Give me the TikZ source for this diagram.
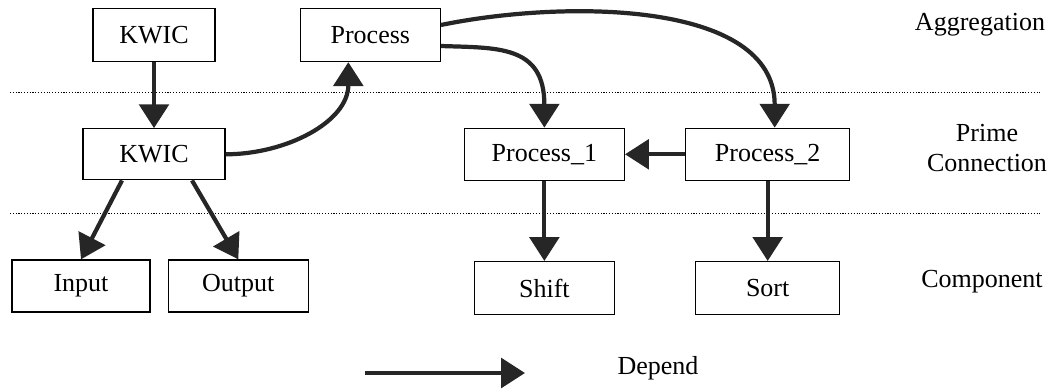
\documentclass[tikz,border=0pt]{standalone}
\usepackage{fontspec}
\setmainfont{Liberation Serif}
\usetikzlibrary{arrows.meta,positioning,calc}
\tikzset{
    layerbox/.style={draw, line width=0.9pt, align=center,
        minimum height=1.3cm, minimum width=3.5cm, inner sep=2pt},
    deparrow/.style={-{Triangle[length=17pt, width=21pt]}, line width=3pt, draw=black!85},
    layerline/.style={line width=0.7pt, dash pattern=on 0.8pt off 1.2pt}
}

\begin{document}
\begin{tikzpicture}[
    x=0.025cm, y=-0.025cm,
    font=\fontsize{18.5}{22}\selectfont
]
\useasboundingbox (0,0) rectangle (1056,389);
% layer separators
\draw[layerline] (10,92) -- (1040,92);
\draw[layerline] (10,213) -- (1040,213);
% aggregation and prime connection
\node[layerbox, minimum width=3.05cm, minimum height=1.325cm] (kwicTop) at (154,35) {KWIC};
\node[layerbox, minimum height=1.325cm, right=2.1cm of kwicTop] (process) {Process};
\node[layerbox, minimum width=3.55cm, minimum height=1.275cm, below=1.65cm of kwicTop] (kwicMid) {KWIC};
\node[layerbox, minimum width=4.0cm, right=5.95cm of kwicMid] (proc1) {Process\_1};
\node[layerbox, minimum width=4.1cm, right=1.5cm of proc1] (proc2) {Process\_2};
% components
\node[layerbox, minimum width=3.45cm] (input) at (81,286) {Input};
\node[layerbox, right=0.425cm of input] (output) {Output};
\node[layerbox, minimum height=1.325cm, below=2cm of proc1] (shift) {Shift};
\node[layerbox, minimum width=3.6cm, minimum height=1.325cm, below=2cm of proc2] (sort) {Sort};
% layer names
\node (aggr) at (980,25) {Aggregation};
\node[align=center] (prime) at (987,148) {Prime\\Connection};
\node (comp) at (982,282) {Component};
% dependencies
\draw[deparrow] (kwicTop) -- (kwicMid);
\draw[deparrow] (kwicMid.east) to[out=0, in=-90] ($(process.south)+(-22,0)$);
\draw[deparrow] ($(process.east)+(0,-10)$) .. controls +(121,-25) and +(0,-128) .. ($(proc2.north)+(7,0)$);
\draw[deparrow] ($(process.east)+(0,11)$) .. controls +(56,2) and +(0,-83) .. (proc1.north);
\draw[deparrow] (proc2) -- (proc1);
\draw[deparrow] ($(kwicMid.south)+(-32,0)$) -- (input.north);
\draw[deparrow] ($(kwicMid.south)+(38,0)$) -- (output.north);
\draw[deparrow] (proc1) -- (shift);
\draw[deparrow] (proc2) -- (sort);
% legend
\coordinate (legStart) at (365,373);
\coordinate (legEnd) at (525,373);
\draw[deparrow] (legStart) -- (legEnd);
\node (depend) at (658,368) {Depend};
\end{tikzpicture}
\end{document}
